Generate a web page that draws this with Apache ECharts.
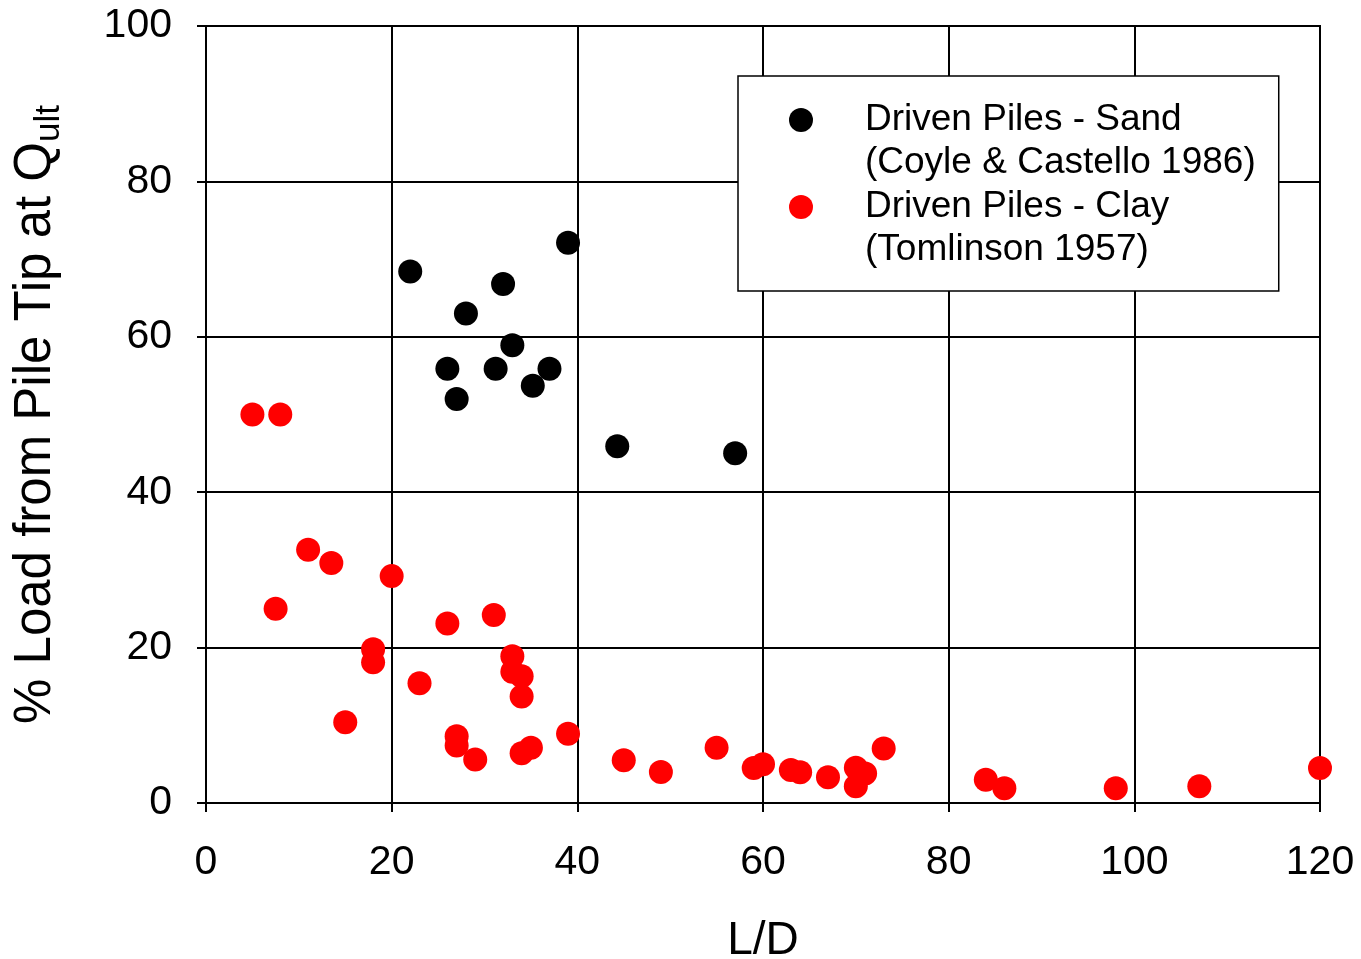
<!DOCTYPE html>
<html>
<head>
<meta charset="utf-8">
<script src="https://cdn.jsdelivr.net/npm/echarts@6/dist/echarts.min.js"></script>
<style>
  html, body { margin: 0; padding: 0; background: #fff; }
  #chart { width: 1361px; height: 959px; }
</style>
</head>
<body>
<div id="chart"></div>
<script>
// L/D and % tip load
const sandLD  = [22, 39, 32, 28, 33, 26, 31.2, 37, 35.2, 27, 44.3, 57];
const sandTip = [68.4, 72.1, 66.8, 63.0, 58.9, 55.9, 55.9, 55.9, 53.7, 52.0, 45.9, 45.0];

const clayLD  = [5, 8, 11, 13.5, 20, 7.5, 26, 31, 18, 18, 33, 33, 34, 34, 23, 15, 27, 27, 29, 34,
                 35, 39, 45, 49, 55, 59, 60, 63, 64, 67, 70, 71, 70, 73, 84, 86, 98, 107, 120];
const clayTip = [50, 50, 32.6, 30.9, 29.2, 25, 23.1, 24.2, 19.8, 18.1, 18.9, 16.9, 16.3, 13.7, 15.4, 10.4, 8.6, 7.4, 5.6, 6.4,
                 7.1, 8.9, 5.5, 4.0, 7.1, 4.5, 5.0, 4.25, 3.95, 3.3, 4.55, 3.8, 2.15, 7.0, 3.0, 1.9, 1.9, 2.15, 4.5];

const xTicks = [0, 20, 40, 60, 80, 100, 120];
const yTicks = [0, 20, 40, 60, 80, 100];

const seriesNames = ['Driven Piles - Sand\n(Coyle & Castello 1986)', 'Driven Piles - Clay\n(Tomlinson 1957)'];

const font = '"Liberation Sans", Arial, sans-serif';

function pairs(xs, ys) {
    return xs.map(function (x, i) { return [x, ys[i]]; });
}

const chart = echarts.init(document.getElementById('chart'));

chart.setOption({
    animation: false,
    backgroundColor: '#fff',
    textStyle: { fontFamily: font, color: '#000' },
    grid: {
        left: 206, right: 41, top: 26, bottom: 156,
        outerBoundsMode: 'none',
        show: true, borderColor: '#000', borderWidth: 2
    },
    legend: {
        orient: 'vertical',
        left: 738,
        top: 76,
        data: seriesNames,
        // leading blank line keeps the first text line level with the marker
        formatter: function (name) { return '\n' + name; },
        icon: 'circle',
        itemWidth: 24,
        itemHeight: 24,
        itemGap: -42,
        padding: [-20.5, 23, 19.5, 51],
        borderColor: '#000',
        borderWidth: 1.5,
        backgroundColor: '#fff',
        selectedMode: false,
        textStyle: { fontFamily: font, fontSize: 37, lineHeight: 43, color: '#000', padding: [0, 0, 0, 47] }
    },
    xAxis: {
        type: 'value',
        min: xTicks[0],
        max: xTicks[xTicks.length - 1],
        interval: 20,
        name: 'L/D',
        nameLocation: 'middle',
        nameGap: 115,
        nameTextStyle: { fontFamily: font, fontSize: 46, color: '#000' },
        axisLine: { lineStyle: { color: '#000', width: 2 } },
        axisTick: { show: true, inside: false, length: 9, lineStyle: { color: '#000', width: 2 } },
        axisLabel: { fontFamily: font, fontSize: 41, color: '#000', margin: 39 },
        splitLine: { show: true, lineStyle: { color: '#000', width: 2 } }
    },
    yAxis: {
        type: 'value',
        min: yTicks[0],
        max: yTicks[yTicks.length - 1],
        interval: 20,
        name: '% Load from Pile Tip at Q{sub|ult}',
        nameLocation: 'middle',
        nameGap: 145,
        nameTextStyle: {
            fontFamily: font, fontSize: 51, color: '#000',
            rich: { sub: { fontFamily: font, fontSize: 35, color: '#000', verticalAlign: 'bottom', padding: [0, 0, -6, 0] } }
        },
        axisLine: { lineStyle: { color: '#000', width: 2 } },
        axisTick: { show: true, inside: false, length: 9, lineStyle: { color: '#000', width: 2 } },
        axisLabel: { fontFamily: font, fontSize: 41, color: '#000', margin: 34 },
        splitLine: { show: true, lineStyle: { color: '#000', width: 2 } }
    },
    series: [
        {
            name: seriesNames[0],
            type: 'scatter',
            symbol: 'circle',
            symbolSize: 24,
            clip: false,
            itemStyle: { color: '#000', opacity: 1 },
            data: pairs(sandLD, sandTip)
        },
        {
            name: seriesNames[1],
            type: 'scatter',
            symbol: 'circle',
            symbolSize: 24,
            clip: false,
            itemStyle: { color: '#ff0000', opacity: 1 },
            data: pairs(clayLD, clayTip)
        }
    ]
});
</script>
</body>
</html>
